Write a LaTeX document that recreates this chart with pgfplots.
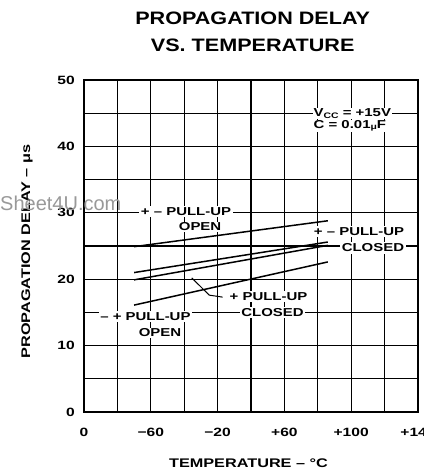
\documentclass[border=0pt]{standalone}
\usepackage{fontspec}
\setmainfont{Liberation Sans}
\newfontfamily\labfont{Liberation Sans}[FakeStretch=1.3]
\newfontfamily\titfont{Liberation Sans}[FakeStretch=1.2]
\usepackage{pgfplots}
\pgfplotsset{compat=1.18}
\newcommand{\tickf}{\labfont\bfseries\fontsize{12}{14}\selectfont}
\newcommand{\annf}{\labfont\bfseries\fontsize{11.5}{13}\selectfont}
\newcommand{\axlf}{\labfont\bfseries\fontsize{12.5}{14}\selectfont}
\newcommand{\titf}{\titfont\bfseries\fontsize{18}{20}\selectfont}
\begin{document}
\begin{tikzpicture}
\useasboundingbox (-84pt,-61pt) rectangle (339pt,412pt);
\begin{axis}[
  scale only axis, width=334pt, height=332pt,
  xmin=-100, xmax=100, ymin=0, ymax=50,
  xtick={-100,-60,-20,20,60,100},
  xticklabels={0,−60,−20,+60,+100,+140},
  minor xtick={-80,-40,0,40,80},
  ytick={0,10,20,30,40,50},
  minor ytick={5,15,25,35,45},
  grid=both,
  major grid style={black, line width=1.1pt},
  minor grid style={black, line width=1.1pt},
  major tick length=0pt, minor tick length=0pt,
  axis line style={black, line width=1.5pt},
  /pgf/number format/assume math mode=true,
  tick label style={font=\tickf},
  xticklabel style={anchor=center, yshift=-20pt},
  yticklabel style={anchor=east, inner sep=0pt, xshift=-9pt},
  clip=false,
]
% delay curves
\addplot[black, line width=1.5pt] coordinates {(-70,24.9) (46,28.8)};
\addplot[black, line width=1.5pt] coordinates {(-70,21.0) (46,25.6)};
\addplot[black, line width=1.5pt] coordinates {(-70,19.9) (46,25.1)};
\addplot[black, line width=1.5pt] coordinates {(-70,16.1) (46,22.6)};
% leader line
\addplot[black, line width=1pt] coordinates {(-35.5,20.2) (-25.0,17.6) (-17,17.3)};
% annotations
\node[fill=white, inner sep=1.5pt, font=\annf] at (axis cs:-38.9,30.2) {+ – PULL-UP};
\node[fill=white, inner sep=1pt, font=\annf] at (axis cs:-30.5,27.9) {OPEN};
\node[fill=white, inner sep=1.5pt, font=\annf] at (axis cs:64.7,27.15) {+ – PULL-UP};
\node[fill=white, inner sep=1.5pt, font=\annf] at (axis cs:73.0,24.7) {CLOSED};
\node[fill=white, inner sep=1.5pt, font=\annf] at (axis cs:10.5,17.4) {+ PULL-UP};
\node[fill=white, inner sep=1.5pt, font=\annf] at (axis cs:12.9,14.95) {CLOSED};
\node[fill=white, inner sep=1.5pt, font=\annf] at (axis cs:-63.2,14.35) {– + PULL-UP};
\node[fill=white, inner sep=1pt, font=\annf] at (axis cs:-54.5,11.9) {OPEN};
\node[fill=white, inner sep=0.5pt, anchor=west, font=\annf] at (axis cs:37.1,45.0) {V{\fontsize{8}{8}\selectfont\raisebox{-2pt}{CC}} = +15V};
\node[fill=white, inner sep=0.5pt, anchor=west, font=\annf] at (axis cs:37.1,43.1) {C = 0.01{\fontsize{8}{8}\selectfont\raisebox{-1pt}{μ}}F};
% axis labels and title
\node[rotate=90, font=\axlf] at ([xshift=-57pt]rel axis cs:0,0.483) {PROPAGATION DELAY – μs};
\node[font=\axlf] at ([yshift=-51pt]rel axis cs:0.4925,0) {TEMPERATURE – °C};
\node[font=\titf] at ([yshift=62pt]rel axis cs:0.505,1) {PROPAGATION DELAY};
\node[font=\titf] at ([yshift=35pt]rel axis cs:0.505,1) {VS. TEMPERATURE};
% watermark
\node[anchor=base west, inner sep=0pt, text=black!40, font=\fontsize{20}{22}\selectfont] at (axis cs:-150.3,30.4) {Sheet4U.com};
\end{axis}
\end{tikzpicture}
\end{document}
